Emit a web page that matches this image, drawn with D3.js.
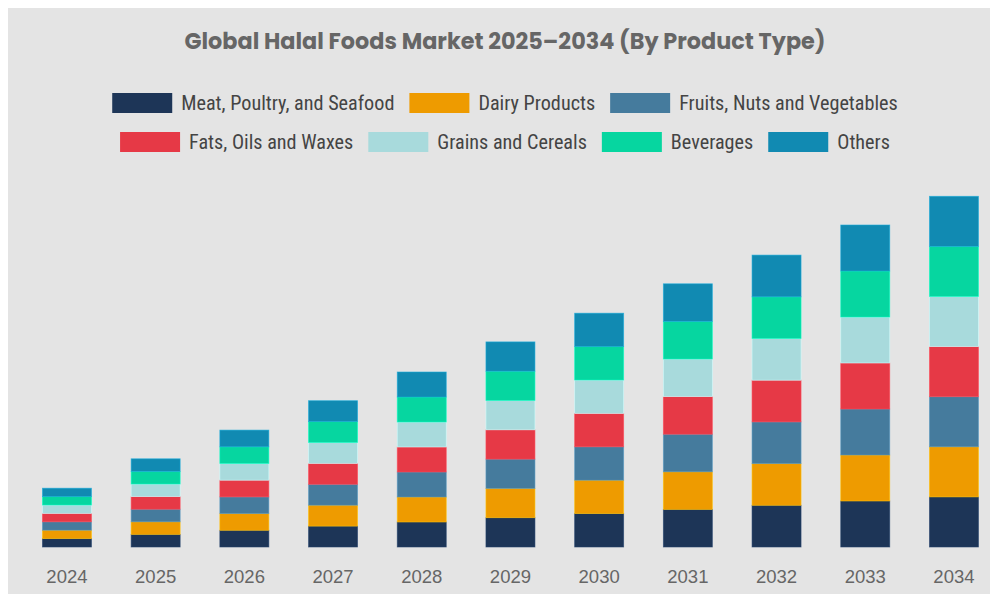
<!DOCTYPE html>
<html>
<head>
<meta charset="utf-8">
<script src="https://cdn.jsdelivr.net/npm/d3@7"></script>
<style>
  body { margin: 0; background: #ffffff; }
  svg { display: block; }
</style>
</head>
<body>
<script>
const years = ["2024", "2025", "2026", "2027", "2028", "2029", "2030", "2031", "2032", "2033", "2034"]

const seriesNames = ["Meat, Poultry, and Seafood", "Dairy Products", "Fruits, Nuts and Vegetables",
    "Fats, Oils and Waxes", "Grains and Cereals", "Beverages", "Others"]

// values, one list per product type (same unit for all)
const meat      = [8.4, 12.6, 16.7, 20.9, 25.0, 29.3, 33.4, 37.6, 41.7, 46.0, 50.1]
const dairy     = [8.4, 12.6, 16.7, 20.9, 25.0, 29.3, 33.4, 37.6, 41.7, 46.0, 50.1]
const fruits    = [8.4, 12.6, 16.7, 20.9, 25.0, 29.3, 33.4, 37.6, 41.7, 46.0, 50.1]
const fats      = [8.4, 12.6, 16.7, 20.9, 25.0, 29.3, 33.4, 37.6, 41.7, 46.0, 50.1]
const grains    = [8.4, 12.6, 16.7, 20.9, 25.0, 29.3, 33.4, 37.6, 41.7, 46.0, 50.1]
const beverages = [8.4, 12.6, 16.7, 20.9, 25.0, 29.3, 33.4, 37.6, 41.7, 46.0, 50.1]
const others    = [8.4, 12.6, 16.7, 20.9, 25.0, 29.3, 33.4, 37.6, 41.7, 46.0, 50.1]

const colors = ["#1d3557", "#ee9b00", "#457b9d", "#e63946", "#a8dadc", "#06d6a0", "#118ab2"]

const svgWidth = 990
const svgHeight = 594
const baseline = 547

const seriesValues = [meat, dairy, fruits, fats, grains, beverages, others]
const table = years.map((y, i) => {
    const row = { year: y }
    seriesNames.forEach((s, j) => { row[s] = seriesValues[j][i] })
    return row
})

const svg = d3.select("body").append("svg")
    .attr("width", svgWidth)
    .attr("height", svgHeight)

svg.append("rect")
    .attr("x", 8)
    .attr("y", 8)
    .attr("width", svgWidth - 8)
    .attr("height", svgHeight - 8)
    .attr("fill", "#e4e4e4")

svg.append("text")
    .attr("x", 505)
    .attr("y", 49)
    .attr("text-anchor", "middle")
    .attr("font-family", "Poppins, Inter, 'Open Sans', sans-serif")
    .attr("font-weight", 700)
    .attr("font-size", 23.5)
    .attr("textLength", 641)
    .attr("lengthAdjust", "spacingAndGlyphs")
    .attr("fill", "#666666")
    .text("Global Halal Foods Market 2025\u20132034 (By Product Type)")

// legend, two centred rows
const legendFont = "'Liberation Sans Narrow', 'Roboto Condensed', 'Arial Narrow', sans-serif"
const legendRows = [seriesNames.slice(0, 3), seriesNames.slice(3)]
legendRows.forEach((names, r) => {
    const g = svg.append("g")
    let cx = 0
    names.forEach((name, k) => {
        const item = g.append("g").attr("transform", `translate(${cx}, 0)`)
        item.append("rect")
            .attr("width", 60)
            .attr("height", 20)
            .attr("fill", colors[seriesNames.indexOf(name)])
        const t = item.append("text")
            .attr("x", 69)
            .attr("y", 17)
            .attr("font-family", legendFont)
            .attr("font-size", 20.2)
            .attr("fill", "#444444")
            .text(name)
        cx += 69 + t.node().getComputedTextLength() + 15
    })
    const w = cx - 15
    g.attr("transform", `translate(${505 - w / 2}, ${93 + r * 39})`)
})

const x = d3.scaleBand()
    .domain(years)
    .range([22.6, 998.3])
    .paddingInner(0.4476)
    .paddingOuter(0.2238)

const y = d3.scaleLinear()
    .domain([0, 360])
    .range([baseline, baseline - 360])

const stack = d3.stack().keys(seriesNames)
const layers = stack(table)

svg.append("g")
    .selectAll("g")
    .data(layers)
    .join("g")
    .attr("fill", (d, i) => colors[i])
    .attr("stroke", (d, i) => d3.color(colors[i]).brighter(0.6))
    .attr("stroke-opacity", 0.7)
    .attr("stroke-width", 0.8)
    .selectAll("rect")
    .data(d => d)
    .join("rect")
    .attr("x", d => x(d.data.year))
    .attr("y", d => y(d[1]))
    .attr("width", x.bandwidth())
    .attr("height", d => y(d[0]) - y(d[1]))

const xAxis = d3.axisBottom(x).tickSize(0).tickPadding(0)

const axisG = svg.append("g")
    .attr("transform", `translate(0, ${baseline})`)
    .call(xAxis)

axisG.select(".domain").remove()
axisG.selectAll("text")
    .attr("dy", null)
    .attr("y", 36)
    .attr("font-family", "'Liberation Sans', Arial, sans-serif")
    .attr("font-size", 18.5)
    .attr("fill", "#666666")
</script>
</body>
</html>
